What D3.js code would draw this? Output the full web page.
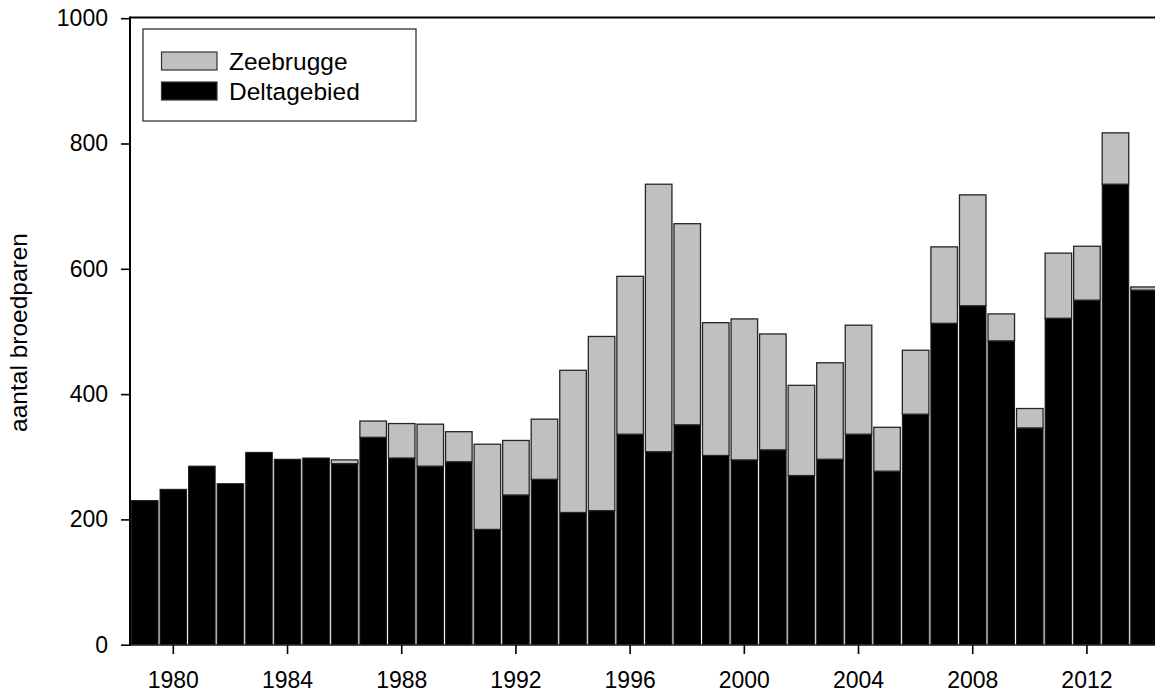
<!DOCTYPE html>
<html>
<head>
<meta charset="utf-8">
<script src="https://cdn.jsdelivr.net/npm/d3@7"></script>
<style>
  html, body { margin: 0; padding: 0; background: #fff; }
  svg { display: block; font-family: "Liberation Sans", Arial, sans-serif; }
</style>
</head>
<body>
<svg id="chart" width="1155" height="695"></svg>
<script>
// ---- data ----
const years = d3.range(1979, 2015);
const deltagebied = [230, 248, 285, 257, 307, 296, 298, 289, 331, 298, 285, 292, 184, 239, 264, 211, 214, 336, 308, 351, 302, 295, 311, 270, 296, 336, 277, 368, 513, 541, 485, 346, 521, 550, 735, 566];
const zeebrugge   = [0, 0, 0, 0, 0, 0, 0, 6, 26, 55, 67, 48, 136, 87, 96, 227, 278, 252, 427, 321, 212, 225, 185, 144, 154, 174, 70, 102, 122, 177, 43, 31, 104, 86, 82, 5];
const xTickYears = [1980, 1984, 1988, 1992, 1996, 2000, 2004, 2008, 2012];
const yTicks = [0, 200, 400, 600, 800, 1000];
const seriesNames = ["Zeebrugge", "Deltagebied"];
const yTitle = "aantal broedparen";

// ---- layout ----
const svg = d3.select("#chart");
const plotLeft = 130.5, plotBottom = 644.7, plotTop = 18.2;
const pitch = 28.55;
const x = d3.scaleBand().domain(years).range([plotLeft, plotLeft + years.length * pitch]).padding(0);
const y = d3.scaleLinear().domain([0, 1000]).range([plotBottom, plotTop]);
const plotRight = plotLeft + years.length * pitch;
const fs = 23;
const fsText = 24.5;

const rows = years.map((yr, i) => ({ year: yr, delta: deltagebied[i], zee: zeebrugge[i] }));

// bars: Deltagebied
svg.append("g").selectAll("rect").data(rows).join("rect")
  .attr("x", d => x(d.year) + 1)
  .attr("width", x.bandwidth() - 2)
  .attr("y", d => y(d.delta))
  .attr("height", d => y(0) - y(d.delta))
  .attr("fill", "#000")
  .attr("stroke", "#1a1a1a")
  .attr("stroke-width", 1);

// bars: Zeebrugge stacked
svg.append("g").selectAll("rect").data(rows.filter(d => d.zee > 0)).join("rect")
  .attr("x", d => x(d.year) + 1)
  .attr("width", x.bandwidth() - 2)
  .attr("y", d => y(d.delta + d.zee))
  .attr("height", d => y(d.delta) - y(d.delta + d.zee))
  .attr("fill", "#c0c0c0")
  .attr("stroke", "#262626")
  .attr("stroke-width", 1.3);

// frame
svg.append("line").attr("x1", plotLeft - 0.5).attr("x2", plotRight).attr("y1", plotTop - 0.7).attr("y2", plotTop - 0.7)
  .attr("stroke", "#000").attr("stroke-width", 2);
svg.append("line").attr("x1", plotLeft - 0.5).attr("x2", plotRight).attr("y1", plotBottom + 0.3).attr("y2", plotBottom + 0.3)
  .attr("stroke", "#222").attr("stroke-width", 1.6);
svg.append("line").attr("x1", plotLeft - 0.5).attr("x2", plotLeft - 0.5).attr("y1", plotTop - 1.7).attr("y2", plotBottom + 1)
  .attr("stroke", "#000").attr("stroke-width", 2);

// y axis
const yAxis = d3.axisLeft(y).tickValues(yTicks).tickSize(9).tickPadding(13).tickFormat(d3.format("d"));
const gy = svg.append("g").attr("transform", `translate(${plotLeft - 0.5},0)`).call(yAxis);
gy.select(".domain").remove();
gy.selectAll(".tick line").attr("stroke", "#000").attr("stroke-width", 1.6);
gy.selectAll(".tick text").attr("font-size", fs).attr("fill", "#000")
  .attr("font-family", "'Liberation Sans', Arial, sans-serif");

// x axis
const xAxis = d3.axisBottom(x).tickValues(xTickYears).tickSize(9).tickPadding(18);
const gx = svg.append("g").attr("transform", `translate(0,${plotBottom + 0.3})`).call(xAxis);
gx.select(".domain").remove();
gx.selectAll(".tick line").attr("stroke", "#000").attr("stroke-width", 1.6);
gx.selectAll(".tick text").attr("font-size", fs).attr("fill", "#000")
  .attr("font-family", "'Liberation Sans', Arial, sans-serif");

// y title
svg.append("text")
  .attr("transform", `translate(27,${(plotTop + plotBottom) / 2 + 1}) rotate(-90)`)
  .attr("text-anchor", "middle")
  .attr("font-size", fsText)
  .attr("fill", "#000")
  .text(yTitle);

// legend
const lg = svg.append("g");
lg.append("rect").attr("x", 143).attr("y", 29).attr("width", 273).attr("height", 92)
  .attr("fill", "#fff").attr("stroke", "#333").attr("stroke-width", 1.3);
const legendFills = ["#c0c0c0", "#000"];
const legendY = [52, 82];
seriesNames.forEach((name, i) => {
  lg.append("rect").attr("x", 161.5).attr("y", legendY[i]).attr("width", 55.5).attr("height", 18)
    .attr("fill", legendFills[i]).attr("stroke", "#333").attr("stroke-width", 1.2);
  lg.append("text").attr("x", 229).attr("y", legendY[i] + 18).attr("font-size", fsText)
    .attr("fill", "#000").text(name);
});
</script>
</body>
</html>
